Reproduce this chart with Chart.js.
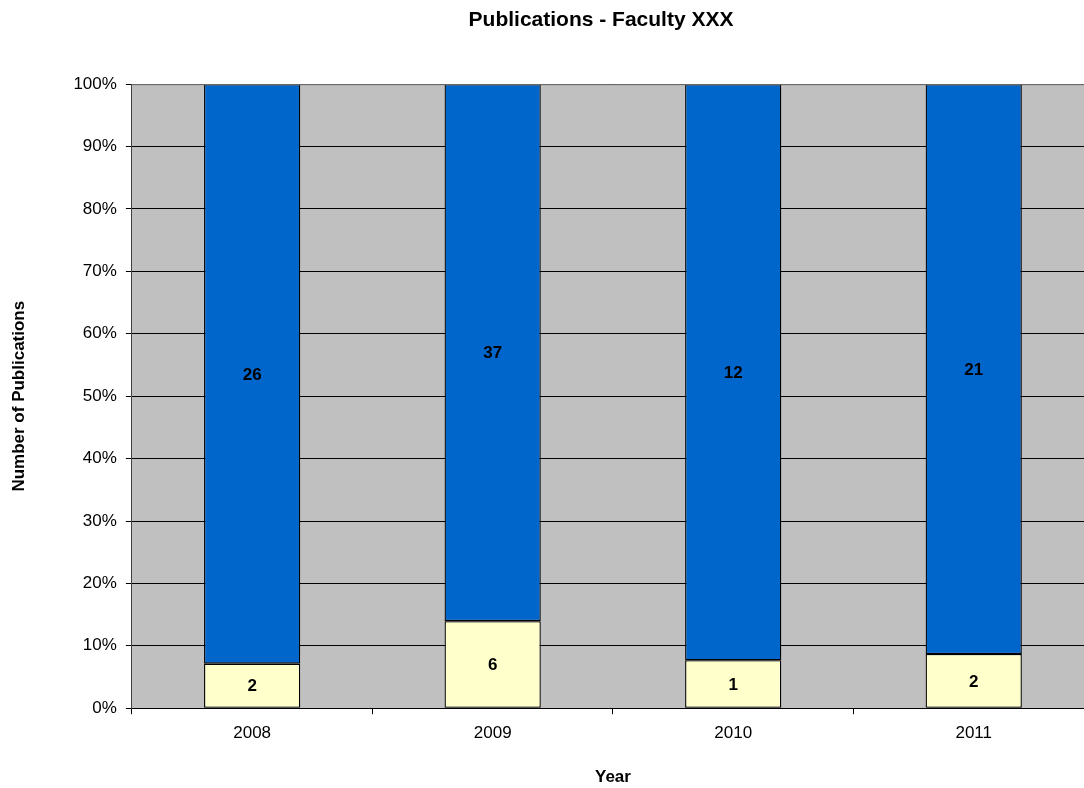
<!DOCTYPE html>
<html><head><meta charset="utf-8">
<script src="https://cdn.jsdelivr.net/npm/chart.js@4.4.0/dist/chart.umd.min.js"></script>
<style>
html,body{margin:0;padding:0;background:#fff;overflow:hidden;}
#wrap{width:1084px;height:788px;overflow:hidden;position:relative;}
#c{position:absolute;left:0;top:0;}
</style></head>
<body><div id="wrap"><canvas id="c" width="1196" height="788"></canvas></div>
<script>
const years = ['2008','2009','2010','2011'];
const seriesBottom = [2, 6, 1, 2];
const seriesTop = [26, 37, 12, 21];
const yTickLabels = ['0%','10%','20%','30%','40%','50%','60%','70%','80%','90%','100%'];

const totals = years.map((_, i) => seriesBottom[i] + seriesTop[i]);
const pctBottom = seriesBottom.map((v, i) => v / totals[i] * 100);
const pctTop = seriesTop.map((v, i) => v / totals[i] * 100);
const FONT = 'Arial, "Liberation Sans", sans-serif';

const bgPlugin = {
  id: 'bg',
  beforeDraw(chart) {
    const {ctx, chartArea: a} = chart;
    ctx.save();
    ctx.fillStyle = '#C0C0C0';
    ctx.fillRect(a.left, a.top, a.right - a.left, a.bottom - a.top);
    ctx.restore();
  },
  afterDatasetsDraw(chart) {
    const {ctx, chartArea: a} = chart;
    ctx.save();
    ctx.strokeStyle = '#808080';
    ctx.lineWidth = 1;
    ctx.beginPath();
    ctx.moveTo(a.left, a.top + 0.5);
    ctx.lineTo(a.right, a.top + 0.5);
    ctx.stroke();
    ctx.restore();
  }
};

const labelPlugin = {
  id: 'labels',
  afterDatasetsDraw(chart) {
    const {ctx} = chart;
    ctx.save();
    ctx.font = 'bold 17px ' + FONT;
    ctx.fillStyle = '#000';
    ctx.textAlign = 'center';
    ctx.textBaseline = 'middle';
    chart.data.datasets.forEach((ds, di) => {
      const meta = chart.getDatasetMeta(di);
      meta.data.forEach((bar, i) => {
        const mid = (bar.y + bar.base) / 2;
        ctx.fillText(String(ds.counts[i]), bar.x, mid + 1);
      });
    });
    ctx.restore();
  }
};

new Chart(document.getElementById('c'), {
  type: 'bar',
  data: {
    labels: years,
    datasets: [
      {label: 'A', data: pctBottom, counts: seriesBottom, backgroundColor: '#FFFFCC', borderColor: '#000', borderWidth: 1.3, borderSkipped: false},
      {label: 'B', data: pctTop, counts: seriesTop, backgroundColor: '#0066CC', borderColor: '#000', borderWidth: 1.3, borderSkipped: false}
    ]
  },
  options: {
    responsive: false,
    animation: false,
    events: [],
    layout: {padding: {left: 9, right: 3, top: 0, bottom: 0}},
    datasets: {bar: {categoryPercentage: 1, barPercentage: 0.4}},
    plugins: {
      legend: {display: false},
      tooltip: {enabled: false},
      title: {display: true, text: 'Publications - Faculty XXX', color: '#000', font: {family: FONT, size: 21, weight: 'bold'}, padding: {top: 8, bottom: 51}}
    },
    scales: {
      x: {
        stacked: true,
        offset: true,
        grid: {display: true, offset: true, drawOnChartArea: false, drawTicks: true, tickLength: 6, color: '#000'},
        border: {display: true, color: '#000', width: 1},
        ticks: {color: '#000', font: {family: FONT, size: 17}, padding: 9},
        title: {display: true, text: 'Year', color: '#000', font: {family: FONT, size: 17, weight: 'bold'}, padding: {top: 15, bottom: 0}}
      },
      y: {
        stacked: true,
        min: 0, max: 100,
        ticks: {stepSize: 10, color: '#000', font: {family: FONT, size: 17}, padding: 9,
          callback: (v) => yTickLabels[Math.round(v / 10)]},
        grid: {color: '#000', tickLength: 6, drawTicks: true},
        border: {display: true, color: '#404040', width: 1},
        title: {display: true, text: 'Number of Publications', color: '#000', font: {family: FONT, size: 17, weight: 'bold'}, padding: {top: 0, bottom: 35}}
      },
      ySpacer: {
        type: 'linear',
        position: 'right',
        display: true,
        min: 0, max: 100,
        grid: {drawOnChartArea: false, drawTicks: false, display: false},
        border: {display: false},
        ticks: {display: false},
        afterFit(scale) { scale.width = 99; }
      }
    }
  },
  plugins: [bgPlugin, labelPlugin]
});
</script></body></html>
